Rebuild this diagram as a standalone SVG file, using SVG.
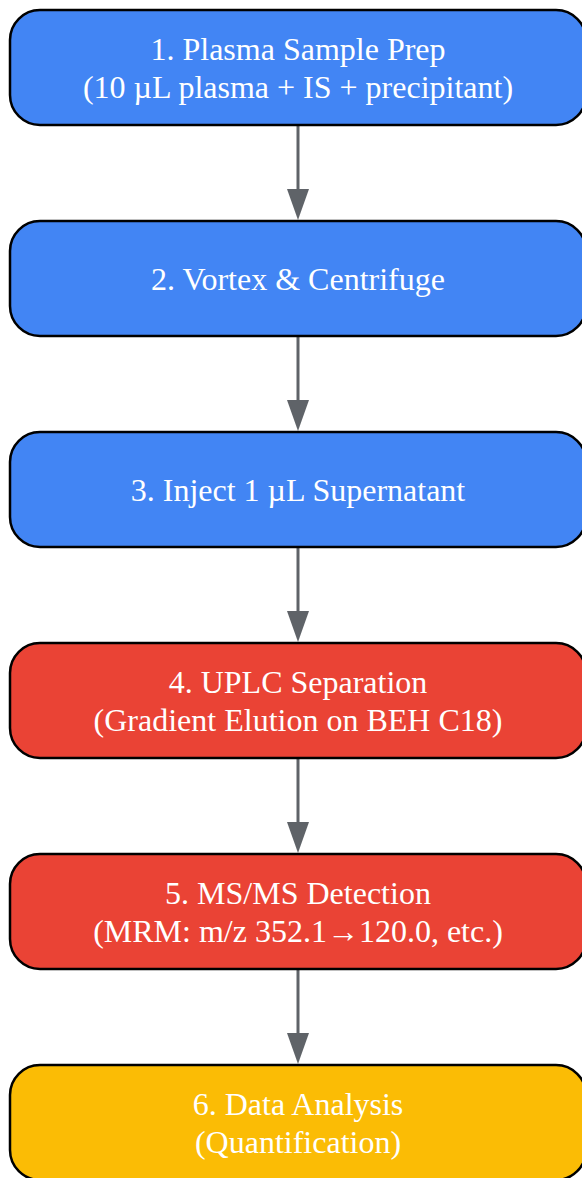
<svg xmlns="http://www.w3.org/2000/svg" width="582" height="1178" viewBox="0 0 582 1178">
<style>
.box{stroke:#000;stroke-width:2.5}
.blue{fill:#4285f4}
.red{fill:#ea4335}
.yellow{fill:#fbbc05}
.t{font-family:"Liberation Serif","Times New Roman",serif;font-size:32px;fill:#fff;text-anchor:middle}
.edge{stroke:#5f6368;stroke-width:3;fill:none}
</style>
<defs>
<marker id="ah" viewBox="0 0 31 22" refX="0" refY="11" markerWidth="31" markerHeight="22" markerUnits="userSpaceOnUse" orient="auto">
<path d="M0,0 L31,11 L0,22 z" fill="#5f6368"/>
</marker>
</defs>
<g id="connectors">
<path class="edge" d="M298,126 V189" marker-end="url(#ah)"/>
<path class="edge" d="M298,337 V400" marker-end="url(#ah)"/>
<path class="edge" d="M298,548 V611" marker-end="url(#ah)"/>
<path class="edge" d="M298,759 V822" marker-end="url(#ah)"/>
<path class="edge" d="M298,970 V1033" marker-end="url(#ah)"/>
</g>
<g id="n1">
<rect class="box blue" x="10" y="10" width="576" height="115" rx="30"/>
<text class="t" x="298" y="60">1. Plasma Sample Prep</text>
<text class="t" x="298" y="98">(10 µL plasma + IS + precipitant)</text>
</g>
<g id="n2">
<rect class="box blue" x="10" y="221" width="576" height="115" rx="30"/>
<text class="t" x="298" y="290">2. Vortex &amp; Centrifuge</text>
</g>
<g id="n3">
<rect class="box blue" x="10" y="432" width="576" height="115" rx="30"/>
<text class="t" x="298" y="501">3. Inject 1 µL Supernatant</text>
</g>
<g id="n4">
<rect class="box red" x="10" y="643" width="576" height="115" rx="30"/>
<text class="t" x="298" y="693">4. UPLC Separation</text>
<text class="t" x="298" y="731">(Gradient Elution on BEH C18)</text>
</g>
<g id="n5">
<rect class="box red" x="10" y="854" width="576" height="115" rx="30"/>
<text class="t" x="298" y="904">5. MS/MS Detection</text>
<text class="t" x="298" y="942">(MRM: m/z 352.1→120.0, etc.)</text>
</g>
<g id="n6">
<rect class="box yellow" x="10" y="1065" width="576" height="115" rx="30"/>
<text class="t" x="298" y="1115">6. Data Analysis</text>
<text class="t" x="298" y="1153">(Quantification)</text>
</g>
</svg>
